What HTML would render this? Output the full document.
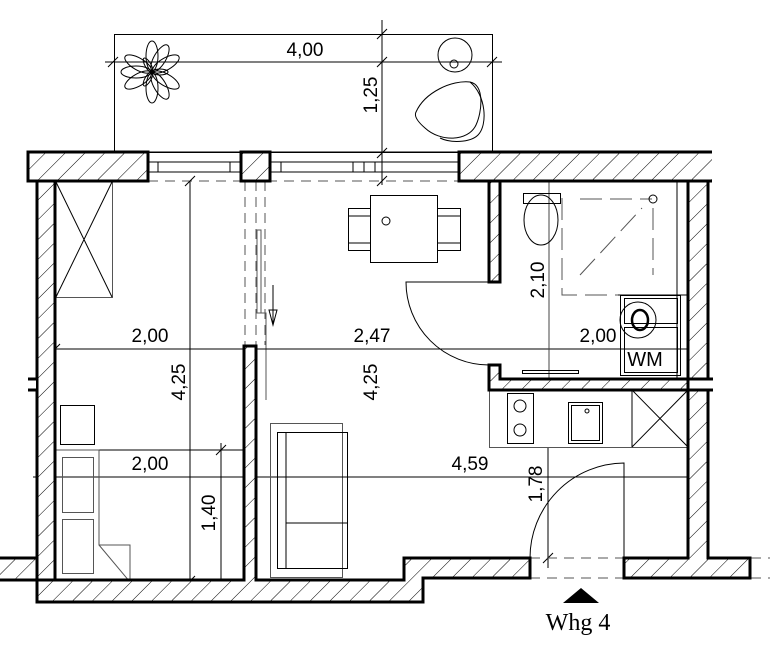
<!DOCTYPE html>
<html><head><meta charset="utf-8"><style>
html,body{margin:0;padding:0;background:#fff;}
svg{display:block}
text{font-family:"Liberation Sans",sans-serif;font-size:19px;fill:#000}
</style></head><body>
<svg width="770" height="658" viewBox="0 0 770 658" xmlns="http://www.w3.org/2000/svg">
<defs>
<pattern id="h" patternUnits="userSpaceOnUse" width="14" height="14" patternTransform="rotate(45)">
<rect width="14" height="14" fill="#fff"/><line x1="0" y1="0" x2="0" y2="14" stroke="#000" stroke-width="1"/>
</pattern>
</defs>
<g fill="none" stroke="#000" stroke-width="1">
<rect x="114.5" y="34.5" width="378" height="118"/>
<line x1="105" y1="62" x2="502" y2="62"/>
<line x1="382" y1="20" x2="382" y2="185"/>
<line x1="108" y1="67" x2="118" y2="57"/><line x1="377" y1="67" x2="387" y2="57"/><line x1="487" y1="67" x2="497" y2="57"/>
<line x1="377" y1="39" x2="387" y2="29"/><line x1="377" y1="158" x2="387" y2="148"/><line x1="377" y1="186" x2="387" y2="176"/>
<circle cx="455" cy="55" r="17"/><circle cx="454" cy="64" r="4"/>
<path d="M416 112 C425 92 452 80 470 82 C485 85 482 112 476 125 C468 142 440 142 425 128 C418 122 414 116 416 112 Z"/>
<path d="M470 82 C486 95 488 125 478 135 C470 143 450 143 440 138"/>
<g transform="translate(152,72)">
<ellipse cx="0" cy="-16" rx="6" ry="15"/><ellipse cx="0" cy="-16" rx="6" ry="15" transform="rotate(60)"/><ellipse cx="0" cy="-16" rx="6" ry="15" transform="rotate(120)"/><ellipse cx="0" cy="-16" rx="6" ry="15" transform="rotate(180)"/><ellipse cx="0" cy="-16" rx="6" ry="15" transform="rotate(240)"/><ellipse cx="0" cy="-16" rx="6" ry="15" transform="rotate(300)"/>
<ellipse cx="0" cy="-16" rx="6" ry="15" transform="rotate(30)"/><ellipse cx="0" cy="-16" rx="6" ry="15" transform="rotate(150)"/><ellipse cx="0" cy="-16" rx="6" ry="15" transform="rotate(270)"/>
<ellipse cx="0" cy="-8" rx="3" ry="8" transform="rotate(90)"/><ellipse cx="0" cy="-8" rx="3" ry="8" transform="rotate(210)"/><ellipse cx="0" cy="-8" rx="3" ry="8" transform="rotate(330)"/>
</g>
<path d="M148 152H241M148 162H241M148 172H241M270 152H459M270 162H459M270 172H459"/>
<path d="M158 162V172M230 162V172M281 162V172M353 162V172M364 162V172M375 162V172"/>
<path d="M148 181H459" stroke="#555" stroke-dasharray="10,7"/>
<path d="M245 181V345M256 181V345M265 181V345" stroke="#555" stroke-dasharray="10,6"/>
<rect x="257" y="230" width="4" height="83" stroke="#555"/>
<path d="M261 313H266V400" stroke="#555"/>
<path d="M273 285V325M269 310H277L273 325Z"/>
<line x1="48" y1="349" x2="695" y2="349"/>
<line x1="190" y1="181" x2="190" y2="582"/>
<line x1="549" y1="181" x2="549" y2="390" stroke="#444"/>
<line x1="56" y1="450" x2="243" y2="450"/>
<line x1="221" y1="443" x2="221" y2="592"/>
<line x1="33" y1="477" x2="703" y2="477"/>
<line x1="548" y1="447" x2="548" y2="568"/>
<path d="M216 455L226 445M216 595L226 585M543 563L553 553M185 586L195 576M377 591L387 581M50 354L60 344M185 186L195 176"/>
<rect x="55.5" y="181.5" width="57" height="116" stroke="#555"/>
<path d="M56 182L112 297M112 182L56 297"/>
<rect x="370.5" y="195.5" width="67" height="67"/>
<circle cx="386" cy="221" r="4"/>
<rect x="348.5" y="208.5" width="22" height="42"/><path d="M348 216H370M348 243H370"/>
<rect x="437.5" y="208.5" width="23" height="42"/><path d="M437 216H460M437 243H460"/>
<path d="M489 282H406A83 83 0 0 0 489 365"/>
<rect x="270.5" y="423.5" width="72" height="154" stroke="#555"/>
<rect x="277.5" y="432.5" width="70" height="136"/>
<path d="M286 432V568M286 477H347M286 523H347"/>
<rect x="60.5" y="405.5" width="34" height="39"/>
<path d="M56 450H99V545H130V582M99 545L130 582" stroke="#555"/>
<rect x="62.5" y="457.5" width="31" height="55" stroke="#555"/>
<rect x="62.5" y="519.5" width="31" height="54" stroke="#555"/>
<rect x="523.5" y="193.5" width="37" height="10"/>
<ellipse cx="541" cy="220" rx="17" ry="25"/>
<path d="M562 198V295H665M580 199H652M653 208V275" stroke="#555" stroke-dasharray="22,8"/>
<path d="M580 275L642 208" stroke="#555" stroke-dasharray="22,8"/>
<circle cx="653" cy="199" r="4"/>
<path d="M677 181V379M618 295H688"/>
<rect x="620.5" y="295.5" width="60" height="80"/>
<rect x="624.5" y="298.5" width="53" height="25"/><rect x="624.5" y="327.5" width="53" height="45"/>
<circle cx="638" cy="320" r="18"/><ellipse cx="640" cy="320" rx="8" ry="10" stroke-width="2.5"/>
<rect x="522.5" y="370.5" width="56" height="3"/>
<rect x="489.5" y="390.5" width="199" height="57" stroke="#555"/>
<rect x="507.5" y="393.5" width="26" height="50"/>
<circle cx="520" cy="406" r="6"/><circle cx="520" cy="430" r="6"/>
<rect x="568.5" y="402.5" width="34" height="41"/><rect x="571.5" y="405.5" width="28" height="35"/>
<circle cx="587" cy="411" r="2"/>
<path d="M632 390V447M632 390L688 447M688 390L632 447"/>
<path d="M624 558V463A95 95 0 0 0 530 558"/>
<path d="M530 558H770M530 578H770" stroke="#555" stroke-dasharray="10,7"/>
</g>
<g fill="url(#h)" stroke="#000" stroke-width="3">
<rect x="28" y="152" width="120" height="29"/>
<rect x="241" y="152" width="29" height="29"/>
<path d="M712 152H459V181H712"/>
<rect x="37" y="181" width="18" height="399"/>
<path d="M0 558H37V580H0"/>
<path d="M37 580H244V346H256V580H404V558H530V578H423V602H37Z"/>
<rect x="489" y="181" width="11" height="101"/>
<path d="M489 365H500V379H688V390H489Z"/>
<rect x="688" y="181" width="20" height="198"/>
<path d="M688 390H708V558H750V578H624V558H688Z"/>
</g>
<g fill="#fff" stroke="none"><rect x="29" y="379.5" width="7" height="10"/><rect x="709.5" y="380" width="5" height="9"/></g>
<path d="M28 379H37M28 390H37M708 379H713M708 390H713" stroke="#000" stroke-width="3"/>
<path d="M563 603L581 588L599 603Z" fill="#000"/>
<text x="305" y="56" text-anchor="middle">4,00</text>
<text transform="translate(377,95) rotate(-90)" text-anchor="middle">1,25</text>
<text x="150" y="342" text-anchor="middle">2,00</text>
<text x="372" y="342" text-anchor="middle">2,47</text>
<text x="598" y="342" text-anchor="middle">2,00</text>
<text transform="translate(185,382) rotate(-90)" text-anchor="middle">4,25</text>
<text transform="translate(377,382) rotate(-90)" text-anchor="middle">4,25</text>
<text transform="translate(544,280) rotate(-90)" text-anchor="middle">2,10</text>
<text x="150" y="470" text-anchor="middle">2,00</text>
<text x="470" y="470" text-anchor="middle">4,59</text>
<text transform="translate(215,513) rotate(-90)" text-anchor="middle">1,40</text>
<text transform="translate(542,484) rotate(-90)" text-anchor="middle">1,78</text>
<text x="645" y="366" text-anchor="middle" style="font-size:20px">WM</text>
<text x="578" y="630" text-anchor="middle" style="font-family:'Liberation Serif',serif;font-size:24px">Whg 4</text>
</svg>
</body></html>
